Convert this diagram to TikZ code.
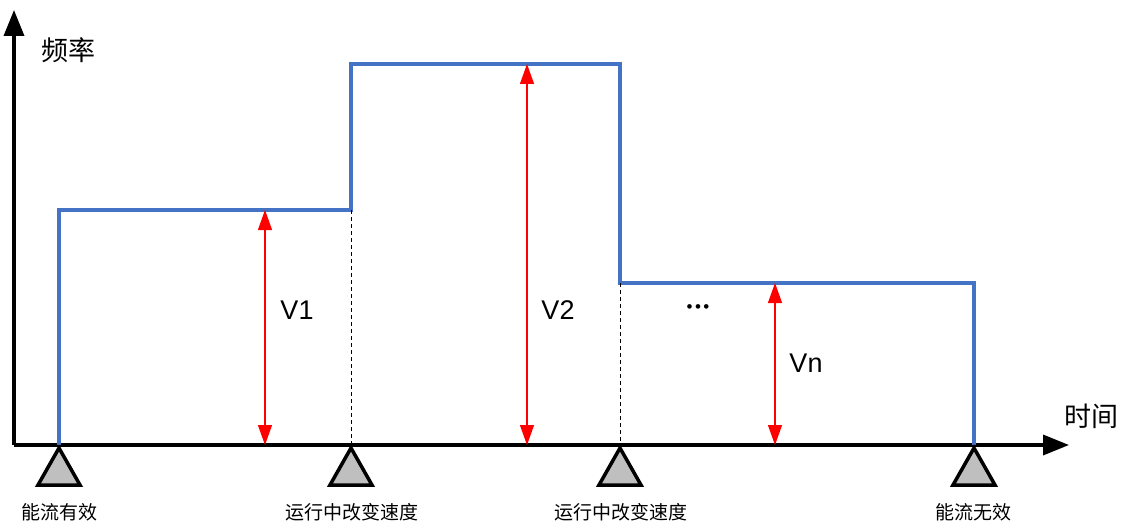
\documentclass[tikz,border=0pt]{standalone}
\usepackage{fontspec}
\setmainfont{Liberation Sans}
\newfontfamily\cjk{Noto Sans CJK SC}
\usetikzlibrary{arrows.meta}
\definecolor{stepblue}{RGB}{68,114,196}
\definecolor{trigray}{RGB}{191,191,191}
\tikzset{
  axisline/.style={line width=3.5pt,-{Triangle[length=26pt,width=20pt]}},
  stepline/.style={stepblue,line width=3.1pt,line join=miter},
  guide/.style={black,line width=1pt,dash pattern=on 4pt off 3pt},
  measure/.style={red,line width=1.2pt,{Triangle[length=20pt,width=14pt]}-{Triangle[length=20pt,width=14pt]}},
  support/.style={draw=black,fill=trigray,line width=3.5pt,line join=miter},
  vlabel/.style={font=\fontsize{27}{30}\selectfont,inner sep=0pt},
  cjklabel/.style={font=\cjk\fontsize{19}{22}\selectfont,inner sep=0pt},
  axlabel/.style={font=\cjk\fontsize{27}{30}\selectfont,inner sep=0pt}
}
\begin{document}
\begin{tikzpicture}[x=1pt,y=-1pt]
\useasboundingbox (0,0) rectangle (1126,524);
% axes
\coordinate (O) at (14,445);
\coordinate (ytip) at (14,10);
\coordinate (xtip) at (1069,445);
\draw[axisline] (O) -- (ytip);
\draw[axisline] (O) -- (xtip);
\node[axlabel] (ylab) at (68,50) {频率};
\node[axlabel] (xlab) at (1091,416) {时间};
% step profile
\coordinate (s0) at (59,445);
\coordinate (s1) at (59,210);
\coordinate (s2) at (351,210);
\coordinate (s3) at (351,64);
\coordinate (s4) at (620,64);
\coordinate (s5) at (620,283);
\coordinate (s6) at (974,283);
\coordinate (s7) at (974,445);
\draw[stepline] (s0) -- (s1) -- (s2) -- (s3) -- (s4) -- (s5) -- (s6) -- (s7);
% dashed guides
\coordinate (g1b) at (351,445);
\coordinate (g2b) at (620,445);
\draw[guide] (s2) -- (g1b);
\draw[guide] (s5) -- (g2b);
% measures
\coordinate (m1a) at (265,445); \coordinate (m1b) at (265,210);
\coordinate (m2a) at (527,445); \coordinate (m2b) at (527,64);
\coordinate (m3a) at (775,445); \coordinate (m3b) at (775,283);
\draw[measure] (m1a) -- (m1b);
\draw[measure] (m2a) -- (m2b);
\draw[measure] (m3a) -- (m3b);
\node[vlabel] (v1) at (297,310) {V1};
\node[vlabel] (v2) at (558,310) {V2};
\node[vlabel] (vn) at (806,363) {Vn};
\node[font=\fontsize{17}{18}\selectfont,inner sep=0pt] (dots) at (698,309) {\textbullet\hspace{2.5pt}\textbullet\hspace{2.5pt}\textbullet};
% supports
\foreach \x/\n in {59/t1,351/t2,620/t3,974/t4}{
  \draw[support] (\x,448) -- (\x+21,485) -- (\x-21,485) -- cycle;
}
\node[cjklabel] (l1) at (59,512) {能流有效};
\node[cjklabel] (l2) at (352,512) {运行中改变速度};
\node[cjklabel] (l3) at (621,512) {运行中改变速度};
\node[cjklabel] (l4) at (973,512) {能流无效};
\end{tikzpicture}
\end{document}
